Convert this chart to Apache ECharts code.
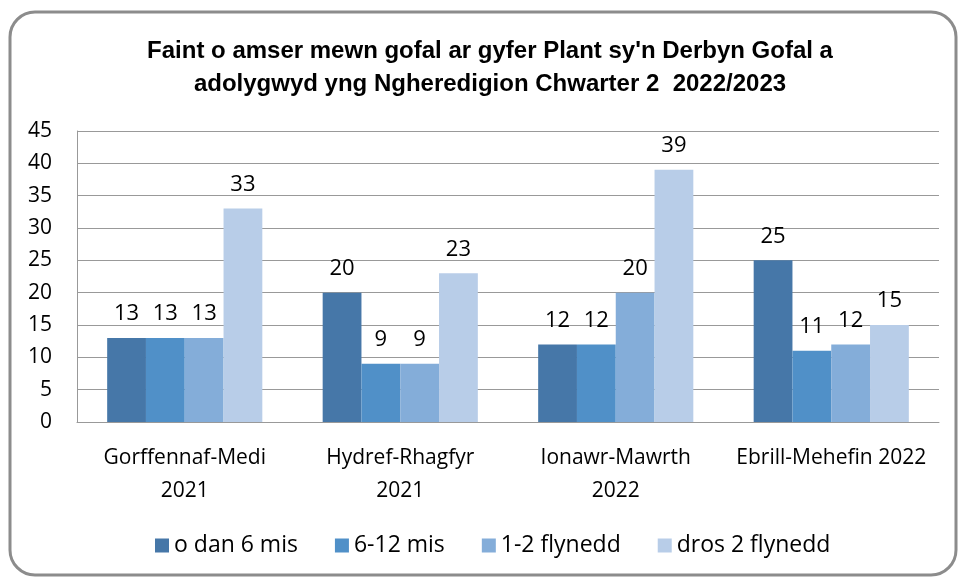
<!DOCTYPE html>
<html>
<head>
<meta charset="utf-8">
<script src="https://cdn.jsdelivr.net/npm/echarts@6/dist/echarts.min.js"></script>
<style>
  html, body { margin: 0; padding: 0; background: #fff; }
  #chart { width: 960px; height: 578px; }
</style>
</head>
<body>
<div id="chart"></div>
<script>
var categories = ['Gorffennaf-Medi\n2021', 'Hydref-Rhagfyr\n2021', 'Ionawr-Mawrth\n2022', 'Ebrill-Mehefin 2022'];
var seriesNames = ['o dan 6 mis', '6-12 mis', '1-2 flynedd', 'dros 2 flynedd'];
var under6m = [13, 20, 12, 25];
var m6to12 = [13, 9, 12, 11];
var y1to2 = [13, 9, 20, 12];
var over2y = [33, 23, 39, 15];
var yTicks = { min: 0, max: 45, interval: 5 };

var colours = ['#4677a8', '#5090c8', '#84add9', '#b8cde8'];
var font = '"Open Sans", "Noto Sans", sans-serif';

var chart = echarts.init(document.getElementById('chart'));

var values = [under6m, m6to12, y1to2, over2y];
var series = [];
for (var i = 0; i < values.length; i++) {
	series.push({
		name: seriesNames[i],
		type: 'bar',
		data: values[i],
		barGap: '0%',
		barCategoryGap: '28%',
		itemStyle: { color: colours[i] },
		label: {
			show: true,
			position: 'top',
			distance: 13,
			color: '#000',
			fontFamily: font,
			fontSize: 22
		}
	});
}

var option = {
	animation: false,
	color: colours,
	title: {
		text: "Faint o amser mewn gofal ar gyfer Plant sy'n Derbyn Gofal a\nadolygwyd yng Ngheredigion Chwarter 2  2022/2023",
		left: 485,
		textAlign: 'center',
		top: 30,
		textStyle: {
			fontFamily: '"Liberation Sans", Arial, sans-serif',
			fontWeight: 'bold',
			fontSize: 24,
			lineHeight: 33,
			color: '#000'
		}
	},
	grid: { left: 77, right: 21, top: 131, bottom: 156 },
	legend: {
		bottom: 16,
		left: 150,
		icon: 'rect',
		itemWidth: 14,
		itemHeight: 14,
		itemGap: 37,
		textStyle: { fontFamily: font, fontSize: 23, color: '#000' },
		data: seriesNames
	},
	xAxis: {
		type: 'category',
		data: categories,
		axisLine: { lineStyle: { color: '#999' } },
		axisTick: { show: false },
		axisLabel: {
			interval: 0,
			margin: 20,
			color: '#000',
			fontFamily: font,
			fontSize: 21,
			lineHeight: 33
		}
	},
	yAxis: {
		type: 'value',
		min: yTicks.min,
		max: yTicks.max,
		interval: yTicks.interval,
		axisLine: { show: true, lineStyle: { color: '#999' } },
		axisTick: { show: false },
		splitLine: { lineStyle: { color: '#999' } },
		axisLabel: { margin: 25, color: '#000', fontFamily: font, fontSize: 21 }
	},
	graphic: [{
		type: 'rect',
		shape: { x: 10, y: 12, width: 946, height: 563, r: 25 },
		style: { fill: 'none', stroke: '#8c8c8c', lineWidth: 3 },
		silent: true
	}],
	series: series
};

chart.setOption(option);
</script>
</body>
</html>
